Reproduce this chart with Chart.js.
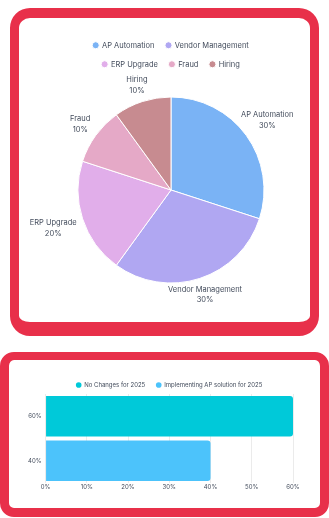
<!DOCTYPE html>
<html>
<head>
<meta charset="utf-8">
<script src="https://cdn.jsdelivr.net/npm/chart.js@4/dist/chart.umd.min.js"></script>
<style>
  html, body { margin: 0; padding: 0; background: #ffffff; }
  body { width: 329px; height: 518px; position: relative; overflow: hidden; }
  .card { position: absolute; box-sizing: border-box; background: #ffffff; border-style: solid; border-color: #e8304a; }
  #pieCard { left: 10px; top: 8px; width: 309px; height: 328px; border-width: 10px 9px 14px 9px; border-radius: 20px; }
  #barCard { left: 0px; top: 352px; width: 329px; height: 165px; border-width: 8px 9px 9px 9px; border-radius: 14px; }
  canvas { position: absolute; left: 0; top: 0; }
</style>
</head>
<body>
<div class="card" id="pieCard"><canvas id="pie" width="291" height="304"></canvas></div>
<div class="card" id="barCard"><canvas id="bar" width="311" height="148"></canvas></div>
<script>
// Spending priorities (share of respondents, %)
const priorityLabels = ['AP Automation', 'Vendor Management', 'ERP Upgrade', 'Fraud', 'Hiring'];
const priorityShares = [30, 30, 20, 10, 10];
const priorityColors = ['#7ab3f5', '#b0a7f2', '#e1aeea', '#e5a9c7', '#c78b90'];

// 2025 plans
const planLabels = ['No Changes for 2025', 'Implementing AP solution for 2025'];
const planShares = [60, 40];
const planColors = ['#00c9d9', '#4cc3fb'];
const planAxisTicks = [0, 10, 20, 30, 40, 50, 60];

const textColor = '#434c5c';
const fontFamily = 'Inter, "Noto Sans", sans-serif';

// Two-line "name / share" labels set on each slice's middle ray, just outside the rim
const sliceLabels = {
  id: 'sliceLabels',
  afterDatasetsDraw(chart) {
    const ctx = chart.ctx;
    const meta = chart.getDatasetMeta(0);
    const values = chart.data.datasets[0].data;
    const lh = 10.5, pad = 3, gap = 3;
    ctx.save();
    ctx.font = '7.5px ' + fontFamily;
    ctx.fillStyle = textColor;
    ctx.textAlign = 'center';
    ctx.textBaseline = 'middle';
    meta.data.forEach((arc, i) => {
      const p = arc.getProps(['x', 'y', 'startAngle', 'endAngle', 'outerRadius'], true);
      const mid = (p.startAngle + p.endAngle) / 2;
      const ux = Math.cos(mid), uy = Math.sin(mid);
      const lines = [chart.data.labels[i], values[i] + '%'];
      const hw = Math.max(...lines.map(t => ctx.measureText(t).width)) / 2 + pad;
      const hh = lines.length * lh / 2 + pad;
      // distance from the box centre to its edge along the ray
      const reach = Math.min(Math.abs(ux) > 1e-6 ? hw / Math.abs(ux) : Infinity,
                             Math.abs(uy) > 1e-6 ? hh / Math.abs(uy) : Infinity);
      const d = p.outerRadius + gap + reach;
      const cx = p.x + ux * d, cy = p.y + uy * d;
      lines.forEach((t, k) => ctx.fillText(t, cx, cy + (k - (lines.length - 1) / 2) * lh));
    });
    ctx.restore();
  }
};

new Chart(document.getElementById('pie'), {
  type: 'pie',
  data: {
    labels: priorityLabels,
    datasets: [{
      data: priorityShares,
      backgroundColor: priorityColors,
      borderColor: '#ffffff',
      borderWidth: 1,
      clip: false
    }]
  },
  options: {
    responsive: false,
    animation: false,
    radius: 93,
    layout: { padding: { top: 12, bottom: 20, left: 42, right: 29 } },
    plugins: {
      legend: {
        position: 'top',
        labels: {
          usePointStyle: true,
          pointStyle: 'circle',
          boxWidth: 5,
          boxHeight: 5,
          padding: 11.5,
          color: textColor,
          font: { size: 7.5, family: fontFamily }
        }
      },
      tooltip: { enabled: false }
    }
  },
  plugins: [sliceLabels]
});

// Keep the bar legend snug against the plot
const snugLegend = {
  id: 'snugLegend',
  beforeInit(chart) {
    const fit = chart.legend.fit;
    chart.legend.fit = function () { fit.call(this); this.height -= 4; };
  }
};

new Chart(document.getElementById('bar'), {
  type: 'bar',
  data: {
    labels: planShares.map(v => v + '%'),
    datasets: planLabels.map((name, i) => ({
      label: name,
      data: planShares.map((v, j) => (j === i ? v : null)),
      backgroundColor: planColors[i],
      borderColor: planColors[i],
      borderWidth: 0,
      borderRadius: 3,
      borderSkipped: 'start'
    }))
  },
  options: {
    indexAxis: 'y',
    responsive: false,
    animation: false,
    categoryPercentage: 1,
    barPercentage: 0.91,
    layout: { padding: { top: 11, bottom: 15.8, left: 15, right: 27 } },
    scales: {
      x: {
        stacked: true,
        min: 0,
        max: 60,
        afterBuildTicks(scale) { scale.ticks = planAxisTicks.map(v => ({ value: v })); },
        ticks: {
          padding: 1,
          color: textColor,
          font: { size: 6, family: fontFamily },
          callback: v => v + '%'
        },
        grid: { color: '#ebebeb', drawTicks: false, lineWidth: 1 },
        border: { display: false }
      },
      y: {
        stacked: true,
        ticks: {
          padding: 4,
          color: textColor,
          font: { size: 6, family: fontFamily }
        },
        grid: { display: false, drawTicks: false },
        border: { display: false }
      }
    },
    plugins: {
      legend: {
        position: 'top',
        fullSize: false,
        labels: {
          usePointStyle: true,
          pointStyle: 'circle',
          boxWidth: 5,
          boxHeight: 4,
          padding: 11,
          color: textColor,
          font: { size: 6, family: fontFamily }
        }
      },
      tooltip: { enabled: false }
    }
  },
  plugins: [snugLegend]
});
</script>
</body>
</html>
